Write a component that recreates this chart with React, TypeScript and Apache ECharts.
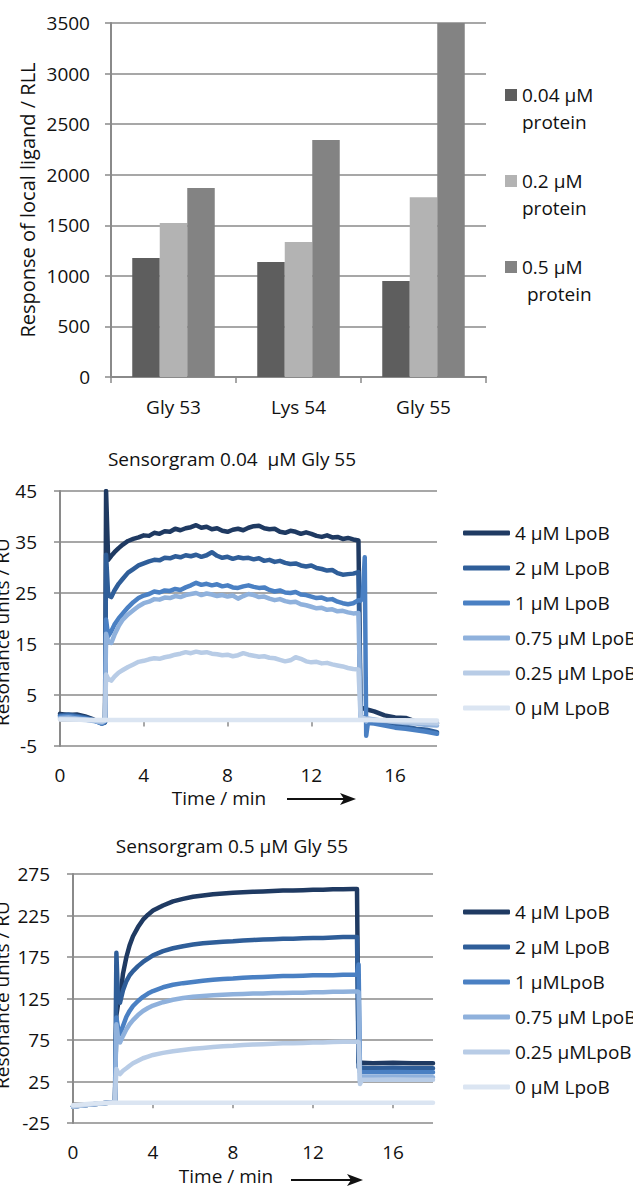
import React, { useEffect, useRef } from "react";
import * as echarts from "echarts";

// ---------- Panel A: bar chart ----------
const BAR_CATEGORIES = ["Gly 53", "Lys 54", "Gly 55"];
const BAR_NAMES = ["0.04 μM", "0.2 μM", "0.5 μM"];
const BAR_NAME_SUFFIX = ["protein", "protein", " protein"];
const BAR_004 = [1177, 1137, 950];
const BAR_02 = [1522, 1335, 1778];
const BAR_05 = [1869, 2343, 3500];

// ---------- Panel B: sensorgram 0.04 μM Gly 55 ----------
const MID_NAMES = ["4 μM LpoB", "2 μM LpoB", "1 μM LpoB", "0.75 μM LpoB", "0.25 μM LpoB", "0 μM LpoB"];
const T_MID = [
  0, 0.4, 0.8, 1.2, 1.6, 2.0, 2.15, 2.2, 2.3, 2.45, 2.6, 2.8, 3.0,
  3.25, 3.5, 3.75, 4.0, 4.25, 4.5, 4.75, 5.0, 5.25, 5.5, 5.75, 6.0, 6.25, 6.5, 6.75, 7.0,
  7.25, 7.5, 7.75, 8.0, 8.25, 8.5, 8.75, 9.0, 9.25, 9.5, 9.75, 10.0, 10.25, 10.5, 10.75, 11.0,
  11.25, 11.5, 11.75, 12.0, 12.25, 12.5, 12.75, 13.0, 13.25, 13.5, 13.75, 14.0, 14.25,
  14.35, 14.45, 14.55, 14.62, 14.7, 15.0, 15.5, 16.0, 16.5, 17.0, 17.5, 18.0,
];
const MID_4 = [
  1.3, 1.1, 1.2, 0.8, 0.2, -0.5, -0.3, 45, 31.5, 32.3, 33.0, 33.8, 34.5,
  35.2, 35.6, 35.9, 36.3, 36.2, 36.8, 36.6, 37.1, 37.0, 37.6, 37.3, 37.7, 37.9, 38.3, 37.8, 38.0,
  37.5, 37.7, 37.2, 37.0, 37.4, 37.6, 37.3, 37.8, 38.1, 38.2, 37.7, 37.5, 37.6, 37.0, 36.8, 37.2,
  37.0, 36.6, 36.9, 36.6, 36.2, 36.0, 36.3, 35.9, 36.0, 35.6, 35.8, 35.5, 35.3,
  2.4, 2.4, 2.3, 2.2, 2.1, 1.8, 1.0, 0.6, 0.5, -0.2, -0.3, -0.5,
];
const MID_2 = [
  1.0, 1.2, 0.9, 0.6, 0.1, -0.6, -0.4, 32.5, 24.5, 24.2, 25.5, 26.8, 27.8,
  29.0, 29.7, 30.4, 30.8, 31.2, 31.5, 31.4, 31.9, 31.8, 32.2, 32.0, 32.4, 32.2, 32.5, 32.1, 32.4,
  33.0, 32.3, 31.9, 32.1, 31.7, 32.0, 31.8, 31.9, 31.6, 31.8, 31.3, 31.5, 31.1, 31.3, 30.9, 30.7,
  30.8, 30.4, 30.2, 30.4, 29.9, 29.7, 29.4, 29.5, 28.9, 28.6, 28.7, 28.8, 29.1,
  1.0, 0.5, 0.3, 0.2, 0.1, -0.2, -0.6, -0.9, -1.2, -1.6, -1.8, -2.3,
];
const MID_1 = [
  0.8, 0.9, 0.7, 0.4, 0.0, -0.6, -0.2, 19.8, 16.5, 17.5, 18.8, 20.0, 21.0,
  22.2, 23.2, 24.0, 24.5, 24.8, 25.3, 25.1, 25.5, 25.4, 25.8, 25.6, 26.1, 26.5, 27.0, 26.6, 26.8,
  26.5, 26.7, 26.3, 26.5, 26.1, 26.0, 26.3, 26.5, 26.2, 26.0, 26.1, 25.6, 25.3, 25.5, 25.1, 25.0,
  25.2, 24.7, 24.6, 24.3, 24.0, 24.1, 23.7, 23.8, 23.3, 23.0, 22.8, 23.0, 23.6,
  23.5, 24.0, 32.0, -3.0, -0.5, -0.6, -1.0, -1.4, -1.6, -1.9, -2.2, -2.6,
];
const MID_075 = [
  0.5, 0.6, 0.4, 0.2, -0.1, -0.4, 0.0, 17.0, 15.5, 15.2, 16.8, 18.5, 19.8,
  20.8, 21.6, 22.4, 23.0, 23.3, 23.8, 23.7, 24.1, 24.0, 24.4, 24.2, 24.6, 24.8, 25.0, 24.6, 24.9,
  24.7, 24.4, 24.6, 24.3, 24.5, 23.9, 24.4, 24.8, 24.6, 24.2, 24.3, 23.9, 23.6, 23.8, 23.4, 23.2,
  23.3, 22.8, 22.6, 22.3, 22.0, 22.1, 21.7, 21.8, 21.4, 21.5, 21.2, 21.0, 21.1,
  0.5, 0.6, 0.2, -0.2, 0.4, 0.2, -0.1, -0.3, -0.5, -0.6, -0.9, -1.0,
];
const MID_025 = [
  0.3, 0.3, 0.2, 0.1, 0.0, -0.2, 0.0, 9.0, 8.2, 7.8, 8.6, 9.4, 9.9,
  10.5, 11.0, 11.5, 11.7, 12.0, 12.2, 12.1, 12.4, 12.6, 12.9, 13.1, 13.4, 13.2, 13.5, 13.3, 13.4,
  13.1, 13.0, 12.8, 12.9, 12.6, 12.8, 13.2, 12.9, 12.7, 12.5, 12.6, 12.3, 12.2, 11.9, 11.6, 11.8,
  12.4, 12.1, 11.6, 11.4, 11.5, 11.2, 11.3, 11.0, 10.8, 10.6, 10.3, 10.1, 10.0,
  0.6, 0.5, 0.4, 0.3, 0.3, 0.1, 0.0, -0.2, -0.3, -0.4, -0.5, -0.6,
];
const T_MID_0 = [0, 2.0, 14.5, 18];
const MID_0 = [0.2, 0.1, 0.1, 0.0];

// ---------- Panel C: sensorgram 0.5 μM Gly 55 ----------
const BOT_NAMES = ["4 μM LpoB", "2 μM LpoB", "1 μMLpoB", "0.75 μM LpoB", "0.25 μMLpoB", "0 μM LpoB"];
const T_BOT = [
  0, 1, 2.0, 2.1, 2.17, 2.25, 2.35, 2.5, 2.67, 2.83, 3.0, 3.25, 3.5, 3.75, 4.0,
  4.5, 5.0, 5.5, 6.0, 6.5, 7.0, 7.5, 8.0, 8.5, 9.0, 9.5, 10.0, 10.5, 11.0, 11.5, 12.0, 12.5, 13.0, 13.5, 14.0,
  14.2, 14.28, 14.35, 14.45, 15.0, 16.0, 17.0, 18.0,
];
const BOT_4 = [
  -5, -2.5, 0, 2, 105, 118, 124, 155, 175, 189, 200, 211, 220, 226, 231,
  237, 242, 245, 247.5, 249, 250.5, 251.5, 252.5, 253, 253.5, 254, 254.5, 255, 255, 255.5, 256, 256, 256.5, 256.5, 257,
  257, 48, 47, 47.5, 47, 47.5, 47, 47,
];
const BOT_2 = [
  -5, -2.5, 0, 2, 180, 125, 120, 135, 146, 153, 158, 164, 169, 173, 177,
  182, 185.5, 188, 190, 191.5, 192.5, 193.5, 194, 195, 195.5, 196, 196.5, 197, 197, 197.5, 198, 198, 198.5, 199, 199,
  199, 42, 41, 41.5, 41, 41.5, 41, 41,
];
const BOT_1 = [
  -5, -2.5, 0, 2, 102, 90, 82, 92, 103, 110, 116, 122, 127, 131, 134,
  138.5, 141.5, 143.5, 145, 146.5, 147.5, 148.5, 149, 150, 150.5, 151, 151.5, 152, 152, 152.5, 153, 153, 153, 153.5, 153.5,
  154, 166, 36, 36.5, 36, 36.5, 36, 36,
];
const BOT_075 = [
  -5, -2.5, 0, 2, 94, 78, 72, 80, 88, 94, 99, 105, 110, 113.5, 116.5,
  120.5, 123.5, 125.5, 127, 128, 129, 129.5, 130, 130.5, 131, 131, 131.5, 131.5, 132, 132, 132.5, 132.5, 133, 133, 133.5,
  133.5, 133, 24, 30, 30, 30.5, 30, 30,
];
const BOT_025 = [
  -5, -2.5, 0, 2, 40, 36, 34, 38, 41, 44, 47, 50, 53, 55, 57,
  59.5, 61.5, 63, 64.5, 65.5, 66.5, 67.5, 68, 69, 69.5, 70, 70.5, 71, 71, 71.5, 72, 72, 72.5, 73, 73,
  73, 72.5, 22, 27, 27, 27.5, 27, 27,
];
const T_BOT_0 = [0, 1, 2.0, 18];
const BOT_0 = [-3.5, -1.5, -0.5, -0.5];

const TIME_LABELS = [0, 4, 8, 12, 16];
const TIME_TICKS = [4, 8, 12, 16];

const MID_TITLE = "Sensorgram 0.04  μM Gly 55";
const BOT_TITLE = "Sensorgram 0.5 μM Gly 55";
const X_NAME = "Time / min";
const Y_NAME_TOP = "Response of local ligand / RLL";
const Y_NAME_SENSOR = "Resonance units / RU";

const FONT = "'Open Sans', sans-serif";
const AX = "#8a8a8a";
const TXT = "#111";
const LINE_COLORS = ["#1f3a62", "#2f5e99", "#4a80c3", "#8fb1dc", "#b8cce6", "#dbe5f2"];
const BAR_COLORS = ["#5e5e5e", "#b3b3b3", "#838383"];

const zip = (t: number[], v: number[]) => t.map((x, i) => [x, v[i]]);

function App() {
  const ref = useRef<HTMLDivElement>(null);
  useEffect(() => {
    if (!ref.current) return;
    const chart = echarts.init(ref.current, undefined, { renderer: "svg" });

    const valueY = (grid: number, min: number, max: number, interval: number) => ({
      gridIndex: grid,
      type: "value",
      min,
      max,
      interval,
      axisLine: { show: true, lineStyle: { color: AX, width: 2 } },
      axisTick: { show: true, length: 6, lineStyle: { color: AX, width: 1.5 } },
      splitLine: { show: true, lineStyle: { color: AX, width: 1.5 } },
      axisLabel: {
        margin: grid === 0 ? 21 : 23,
        fontSize: 19,
        color: TXT,
        fontFamily: FONT,
        formatter: (v: number) => String(v),
      },
    });
    const timeLabelAxis = (grid: number) => ({
      gridIndex: grid,
      type: "value",
      position: "bottom",
      min: 0,
      max: 18,
      interval: 4,
      axisLine: { show: false, onZero: false },
      axisTick: { show: false },
      splitLine: { show: false },
      axisLabel: {
        margin: 19,
        fontSize: 19,
        color: TXT,
        fontFamily: FONT,
        customValues: TIME_LABELS,
      },
    });
    const timeZeroAxis = (grid: number) => ({
      gridIndex: grid,
      type: "value",
      position: "bottom",
      min: 0,
      max: 18,
      interval: 4,
      axisLine: { show: true, onZero: true, lineStyle: { color: AX, width: 1.5 } },
      axisTick: { show: true, length: 6, lineStyle: { color: AX, width: 1.5 }, customValues: TIME_TICKS },
      axisLabel: { show: false },
      splitLine: { show: false },
    });

    const lineSeries = (name: string, color: string, xi: number, yi: number, data: number[][]) => ({
      type: "line",
      name,
      xAxisIndex: xi,
      yAxisIndex: yi,
      data,
      showSymbol: false,
      symbol: "none",
      itemStyle: { color },
      lineStyle: { color, width: 4.5, cap: "round", join: "round" },
    });

    const midData = [MID_4, MID_2, MID_1, MID_075, MID_025];
    const botData = [BOT_4, BOT_2, BOT_1, BOT_075, BOT_025];

    const series: any[] = [
      { type: "bar", name: BAR_NAMES[0], data: BAR_004, itemStyle: { color: BAR_COLORS[0] }, barGap: "0%", barCategoryGap: "34%" },
      { type: "bar", name: BAR_NAMES[1], data: BAR_02, itemStyle: { color: BAR_COLORS[1] }, barGap: "0%", barCategoryGap: "34%" },
      { type: "bar", name: BAR_NAMES[2], data: BAR_05, itemStyle: { color: BAR_COLORS[2] }, barGap: "0%", barCategoryGap: "34%" },
    ];
    midData.forEach((v, i) => series.push(lineSeries(MID_NAMES[i], LINE_COLORS[i], 1, 1, zip(T_MID, v))));
    series.push(lineSeries(MID_NAMES[5], LINE_COLORS[5], 1, 1, zip(T_MID_0, MID_0)));
    botData.forEach((v, i) => series.push(lineSeries(BOT_NAMES[i], LINE_COLORS[i], 3, 2, zip(T_BOT, v))));
    series.push(lineSeries(BOT_NAMES[5], LINE_COLORS[5], 3, 2, zip(T_BOT_0, BOT_0)));

    const arrow = (x1: number, x2: number, y: number) => [
      { type: "line", shape: { x1, y1: y, x2: x2 - 8, y2: y }, style: { stroke: "#111", lineWidth: 2 } },
      {
        type: "polygon",
        shape: { points: [[x2, y], [x2 - 16, y - 6], [x2 - 12, y], [x2 - 16, y + 6]] },
        style: { fill: "#111" },
      },
    ];
    const txt = (text: string, x: number, y: number, rot = 0, size = 19, align = "center") => ({
      type: "text",
      x,
      y,
      rotation: rot,
      style: { text, fill: TXT, fontSize: size, fontFamily: FONT, align, verticalAlign: "middle" },
    });

    const option: any = {
      animation: false,
      textStyle: { fontFamily: FONT },
      grid: [
        { left: 111, top: 23, width: 375, height: 354 },
        { left: 60, top: 491, width: 377, height: 255 },
        { left: 73, top: 874, width: 360, height: 249 },
      ],
      xAxis: [
        {
          gridIndex: 0,
          type: "category",
          data: BAR_CATEGORIES,
          axisLine: { show: true, lineStyle: { color: AX, width: 2 } },
          axisTick: { show: true, length: 6, lineStyle: { color: AX, width: 1.5 } },
          axisLabel: { margin: 20, fontSize: 19, color: TXT, fontFamily: FONT },
        },
        timeLabelAxis(1),
        timeZeroAxis(1),
        timeLabelAxis(2),
        timeZeroAxis(2),
      ],
      yAxis: [valueY(0, 0, 3500, 500), valueY(1, -5, 45, 10), valueY(2, -25, 275, 50)],
      legend: [
        {
          data: BAR_NAMES,
          orient: "vertical",
          left: 505,
          top: 85,
          padding: 0,
          icon: "rect",
          itemWidth: 12,
          itemHeight: 12,
          itemGap: 66,
          textStyle: { fontSize: 19, lineHeight: 20, color: TXT, fontFamily: FONT },
        },
        {
          data: MID_NAMES,
          orient: "vertical",
          left: 463,
          top: 523,
          padding: 0,
          icon: "roundRect",
          itemWidth: 47,
          itemHeight: 5,
          itemGap: 15,
          textStyle: { fontSize: 19, lineHeight: 20, color: TXT, fontFamily: FONT },
        },
        {
          data: BOT_NAMES,
          orient: "vertical",
          left: 463,
          top: 902,
          padding: 0,
          icon: "roundRect",
          itemWidth: 47,
          itemHeight: 5,
          itemGap: 15,
          textStyle: { fontSize: 19, lineHeight: 20, color: TXT, fontFamily: FONT },
        },
      ],
      graphic: [
        txt(Y_NAME_TOP, 27, 200, Math.PI / 2, 20),
        txt(Y_NAME_SENSOR, 2, 632, Math.PI / 2),
        txt(Y_NAME_SENSOR, 2, 995, Math.PI / 2),
        txt(BAR_NAME_SUFFIX[0], 522, 122, 0, 19, "left"),
        txt(BAR_NAME_SUFFIX[1], 522, 208, 0, 19, "left"),
        txt(BAR_NAME_SUFFIX[2], 522, 294, 0, 19, "left"),
        txt(MID_TITLE, 232, 459),
        txt(BOT_TITLE, 232, 846),
        txt(X_NAME, 219, 798),
        txt(X_NAME, 226, 1176),
        ...arrow(287, 356, 799),
        ...arrow(291, 363, 1180),
      ],
      series,
    };
    chart.setOption(option);
    return () => chart.dispose();
  }, []);
  return (
    <div
      ref={ref}
      style={{ position: "absolute", left: 0, top: 0, width: 633, height: 1189, background: "#fff" }}
    />
  );
}

export default App;
